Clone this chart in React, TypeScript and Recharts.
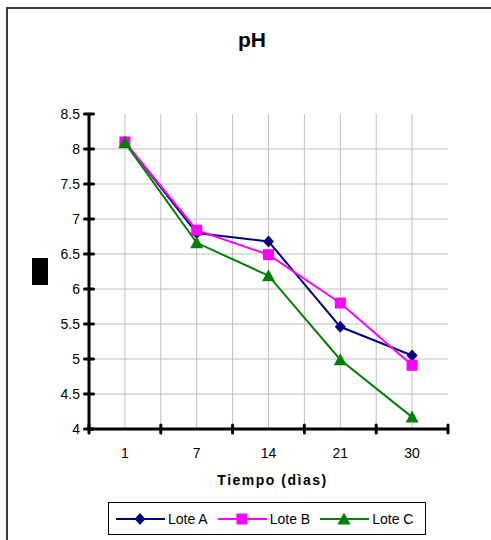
import React from 'react';
import { LineChart, Line, XAxis, YAxis, CartesianGrid } from 'recharts';

// Sampling days and pH readings per batch
const days = ['1', '7', '14', '21', '30'];
const loteA = [8.1, 6.8, 6.68, 5.46, 5.05];
const loteB = [8.1, 6.84, 6.49, 5.8, 4.91];
const loteC = [8.09, 6.66, 6.19, 4.99, 4.17];

const yTicks = [4, 4.5, 5, 5.5, 6, 6.5, 7, 7.5, 8, 8.5];
const yGrid = [4.5, 5, 5.5, 6, 6.5, 7, 7.5, 8];
// x positions: integers are category boundaries, halves are category centres
const xTicks = [0, 0.5, 1, 1.5, 2, 2.5, 3, 3.5, 4, 4.5, 5];
const xGrid = [0.5, 1, 1.5, 2, 2.5, 3, 3.5, 4, 4.5];

const FONT = '"Liberation Sans", Arial, sans-serif';

type Shape = 'diamond' | 'square' | 'triangle';
const series: { key: string; name: string; color: string; shape: Shape; values: number[] }[] = [
  { key: 'A', name: 'Lote A', color: '#000080', shape: 'diamond', values: loteA },
  { key: 'B', name: 'Lote B', color: '#FF00FF', shape: 'square', values: loteB },
  { key: 'C', name: 'Lote C', color: '#008000', shape: 'triangle', values: loteC },
];

const data = days.map((d, i) => {
  const row: Record<string, number | string> = { pos: i + 0.5, day: d };
  series.forEach((s) => {
    row[s.key] = s.values[i];
  });
  return row;
});

function Marker({ cx, cy, color, shape }: { cx: number; cy: number; color: string; shape: Shape }) {
  if (shape === 'diamond') {
    return <polygon points={`${cx},${cy - 6} ${cx + 5.5},${cy} ${cx},${cy + 6} ${cx - 5.5},${cy}`} fill={color} />;
  }
  if (shape === 'square') {
    return <rect x={cx - 5.5} y={cy - 5.5} width={11} height={11} fill={color} />;
  }
  return <polygon points={`${cx},${cy - 6.5} ${cx + 6.5},${cy + 5.5} ${cx - 6.5},${cy + 5.5}`} fill={color} />;
}

function XTick(props: any) {
  const { x, y, payload } = props;
  const v = payload.value as number;
  if (Number.isInteger(v)) {
    return <line x1={x} x2={x} y1={y - 4} y2={y + 4} stroke="#000" strokeWidth={3} strokeLinecap="round" />;
  }
  return (
    <text x={x} y={y + 29} textAnchor="middle" fontSize={14} fontFamily={FONT} fill="#000">
      {days[Math.floor(v)]}
    </text>
  );
}

function YTick(props: any) {
  const { x, y, payload } = props;
  return (
    <g>
      <line x1={x - 4.5} x2={x + 4.5} y1={y} y2={y} stroke="#000" strokeWidth={3} strokeLinecap="round" />
      <text x={x - 9} y={y + 5} textAnchor="end" fontSize={14} fontFamily={FONT} fill="#000">
        {String(payload.value)}
      </text>
    </g>
  );
}

const vGen = ({ xAxis, offset }: any) =>
  xGrid.map((v) => (xAxis && typeof xAxis.scale === 'function' ? xAxis.scale(v) : offset.left + (offset.width * v) / 5));
const hGen = ({ yAxis, offset }: any) =>
  yGrid.map((v) =>
    yAxis && typeof yAxis.scale === 'function' ? yAxis.scale(v) : offset.top + (offset.height * (8.5 - v)) / 4.5
  );

export default function App() {
  return (
    <div style={{ position: 'absolute', left: 0, top: 0, width: 491, height: 540, overflow: 'hidden', background: '#fff', fontFamily: FONT }}>
      <div
        style={{
          position: 'absolute',
          left: 6,
          top: 7,
          width: 540,
          height: 580,
          border: '2px solid #3a3a3a',
          boxSizing: 'border-box',
        }}
      />
      <svg width={491} height={540} style={{ position: 'absolute', left: 0, top: 0 }}>
        <text x={252} y={47} textAnchor="middle" fontSize={21} fontWeight="bold" fontFamily={FONT} fill="#000">
          pH
        </text>
        <rect x={32} y={258} width={16} height={27} fill="#000" />
      </svg>
      <LineChart
        width={491}
        height={540}
        data={data}
        margin={{ top: 114, right: 43, bottom: 55, left: 29 }}
        style={{ position: 'absolute', left: 0, top: 0 }}
      >
        <CartesianGrid
          stroke="#c0c0c0"
          strokeWidth={1}
          verticalCoordinatesGenerator={vGen}
          horizontalCoordinatesGenerator={hGen}
        />
        <XAxis
          dataKey="pos"
          type="number"
          domain={[0, 5]}
          ticks={xTicks}
          interval={0}
          height={56}
          axisLine={{ stroke: '#000', strokeWidth: 3 }}
          tickLine={false}
          tickSize={0}
          tickMargin={0}
          tick={XTick}
          label={{
            content: (p: any) => {
              const vb = p.viewBox;
              return (
                <text
                  x={vb.x + vb.width / 2 + 4}
                  y={vb.y + 56}
                  textAnchor="middle"
                  fontSize={14}
                  fontWeight="bold"
                  letterSpacing={1.5}
                  fontFamily={FONT}
                  fill="#000"
                >
                  Tiempo (dìas)
                </text>
              );
            },
          }}
        />
        <YAxis
          type="number"
          domain={[4, 8.5]}
          ticks={yTicks}
          interval={0}
          width={60}
          axisLine={{ stroke: '#000', strokeWidth: 3 }}
          tickLine={false}
          tickSize={0}
          tickMargin={0}
          tick={YTick}
        />
        {series.map((s) => (
          <Line
            key={s.key}
            dataKey={s.key}
            name={s.name}
            stroke={s.color}
            strokeWidth={2}
            isAnimationActive={false}
            dot={(p: any) => (
              <Marker key={`${s.key}-${p.index}`} cx={p.cx} cy={p.cy} color={s.color} shape={s.shape} />
            )}
            activeDot={false}
          />
        ))}
      </LineChart>
      <div
        style={{
          position: 'absolute',
          left: 108,
          top: 502,
          width: 318,
          height: 33,
          border: '1px solid #000',
          boxSizing: 'border-box',
          display: 'flex',
          alignItems: 'center',
          paddingLeft: 7,
          fontSize: 14,
          color: '#000',
          background: '#fff',
          overflow: 'visible',
        }}
      >
        {series.map((s) => (
          <div key={s.key} style={{ display: 'flex', alignItems: 'center', marginRight: 10, flexShrink: 0 }}>
            <svg width={49} height={14} style={{ flexShrink: 0, display: 'block' }}>
              <line x1={0} x2={49} y1={7} y2={7} stroke={s.color} strokeWidth={2} />
              <Marker cx={24} cy={7} color={s.color} shape={s.shape} />
            </svg>
            <span style={{ marginLeft: 3, whiteSpace: 'nowrap', flexShrink: 0 }}>{s.name}</span>
          </div>
        ))}
      </div>
    </div>
  );
}
